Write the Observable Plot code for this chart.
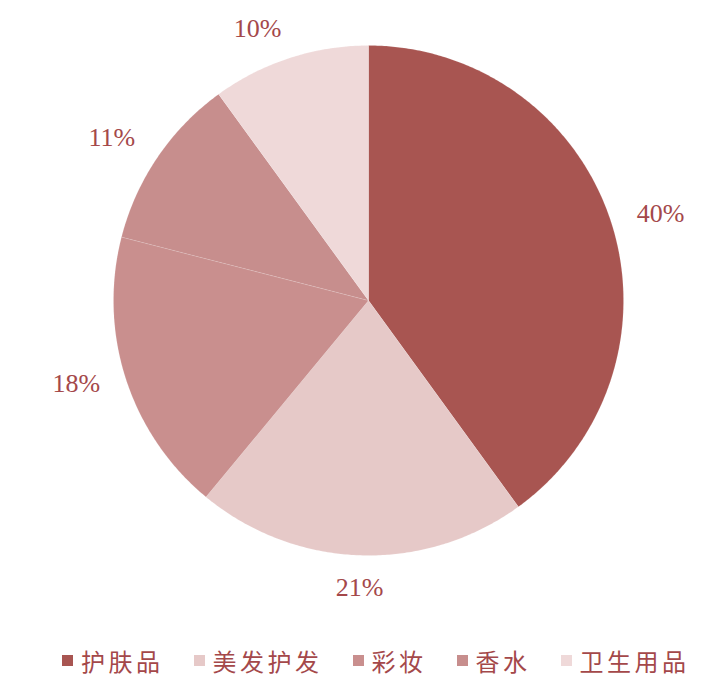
<!DOCTYPE html>
<html>
<head>
<meta charset="utf-8">
<script src="https://cdn.jsdelivr.net/npm/d3@7"></script>
<script src="https://cdn.jsdelivr.net/npm/@observablehq/plot@0.6"></script>
<style>
  body { margin: 0; background: #fff; width: 708px; }
  #chart { position: relative; width: 708px; height: 690px; }
  #legend { position: absolute; left: 62px; top: 643px; width: max-content; white-space: nowrap;
    display: flex; align-items: center;
    font-family: "Noto Sans CJK SC", sans-serif; font-size: 24px; color: #A4484A; letter-spacing: 3.5px; }
  .item { display: flex; align-items: center; margin-right: 30px; white-space: nowrap; }
  .sw { width: 11px; height: 11px; margin-right: 8px; flex: none; }
</style>
</head>
<body>
<div id="chart"></div>
<script>
const categories = ["护肤品", "美发护发", "彩妆", "香水", "卫生用品"];
const shares = [40, 21, 18, 11, 10];
const colors = ["#A85551", "#E6C9C8", "#C98F8E", "#C78E8D", "#EFD9D9"];
const labels = ["40%", "21%", "18%", "11%", "10%"];

const arcs = d3.pie().sort(null).startAngle(0).endAngle(2 * Math.PI)(shares);

// polygon outline points for each slice (unit circle, angle clockwise from top)
const pts = [];
arcs.forEach((a, i) => {
  const name = categories[i];
  pts.push({name, x: 0, y: 0});
  const n = Math.max(2, Math.ceil((a.endAngle - a.startAngle) / (Math.PI / 360)));
  for (let k = 0; k <= n; k++) {
    const t = a.startAngle + (a.endAngle - a.startAngle) * k / n;
    pts.push({name, x: Math.sin(t), y: Math.cos(t)});
  }
  pts.push({name, x: 0, y: 0});
});

const R = 1.106;
const lab = arcs.map((a, i) => {
  const m = (a.startAngle + a.endAngle) / 2;
  const s = Math.sin(m);
  return {text: labels[i], x: R * s, y: R * Math.cos(m),
          anchor: s > 0.2 ? "start" : s < -0.2 ? "end" : "middle"};
});

const textOpts = {x: "x", y: "y", text: "text", fontSize: 26, fill: "#A4484A",
  fontFamily: "Liberation Serif, Times New Roman, serif", lineAnchor: "middle"};

const plot = Plot.plot({
  width: 708, height: 630,
  marginLeft: 113, marginRight: 85, marginTop: 45, marginBottom: 75,
  x: {domain: [-1, 1], axis: null},
  y: {domain: [-1, 1], axis: null},
  color: {domain: categories, range: colors},
  marks: [
    Plot.line(pts, {x: "x", y: "y", z: "name", fill: "name", stroke: "white", strokeOpacity: 0.15, strokeWidth: 0.8, curve: "linear"}),
    Plot.text(lab.filter(d => d.anchor === "start"), {...textOpts, textAnchor: "start"}),
    Plot.text(lab.filter(d => d.anchor === "end"), {...textOpts, textAnchor: "end", dy: -4}),
    Plot.text(lab.filter(d => d.anchor === "middle"), {...textOpts, textAnchor: "middle", dy: 5})
  ]
});
const chart = document.getElementById("chart");
chart.appendChild(plot);

const legend = document.createElement("div");
legend.id = "legend";
categories.forEach((c, i) => {
  const it = document.createElement("div");
  it.className = "item";
  it.innerHTML = `<span class="sw" style="background:${colors[i]}"></span><span>${c}</span>`;
  legend.appendChild(it);
});
chart.appendChild(legend);
</script>
</body>
</html>
